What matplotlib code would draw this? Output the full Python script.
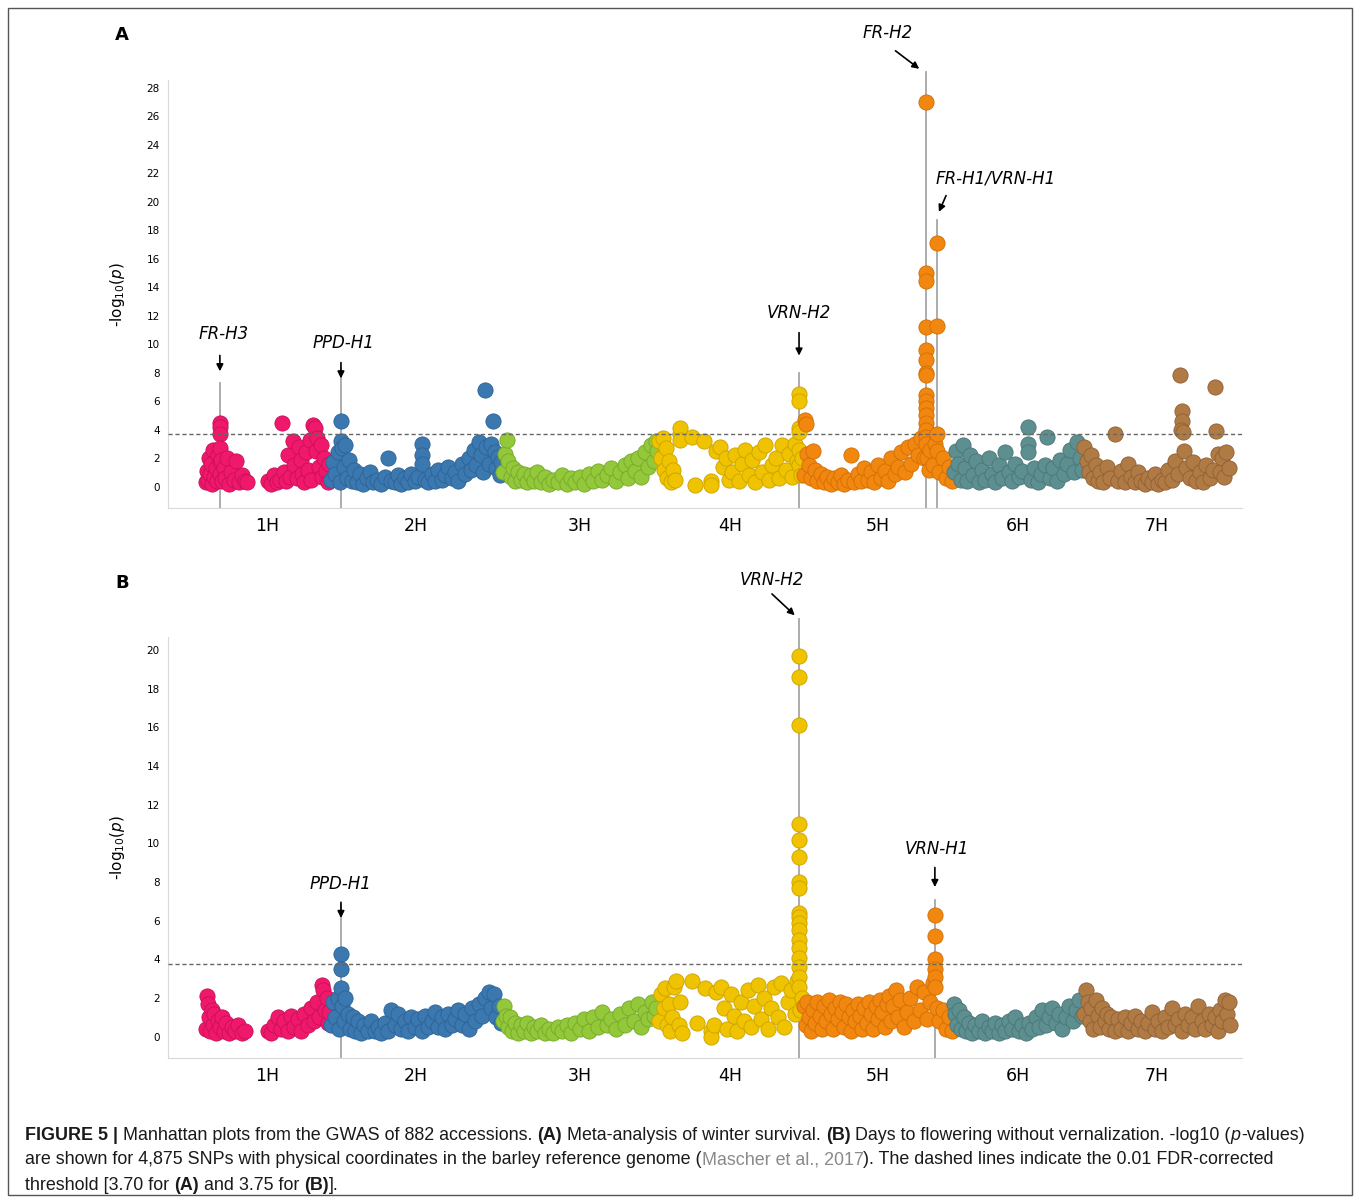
import matplotlib.pyplot as plt
import numpy as np

chroms = ['1H', '2H', '3H', '4H', '5H', '6H', '7H']
chrom_len = [558, 768, 699, 647, 670, 583, 657]  # Mb
colors = ['#f0186a', '#3b78b0', '#93c83a', '#f0c300', '#f2870f', '#5d8f90', '#b07a45']
edges = ['#c8105a', '#2d6294', '#74a82a', '#c9a200', '#d06e05', '#4a7576', '#8f5f33']

# (position Mb within chromosome, -log10 p)  panel A
A_1H = [(3,0.3),(8,1.1),(12,0.5),(18,2.0),(22,0.9),(28,1.6),(33,0.2),(38,2.6),(42,0.7),(48,1.3),
        (55,0.4),(60,2.2),(67,4.5),(67,4.2),(67,3.7),(67,2.7),(67,1.7),(67,0.9),(72,1.9),(78,0.4),
        (85,1.3),(92,0.6),(100,2.0),(108,0.2),(118,1.0),(128,0.5),(140,1.8),(152,0.3),(165,0.8),(180,0.4),(190,0.3),
        (280,0.4),(295,0.2),(310,0.8),(322,0.3),(335,0.5),(345,4.5),(352,1.0),(362,0.4),(372,2.2),(382,0.7),
        (392,3.2),(400,1.5),(410,0.6),(420,2.8),(428,1.9),(436,0.9),(444,0.3),(452,2.4),(460,1.2),(468,3.3),
        (476,0.5),(484,4.3),(490,4.1),(496,2.5),(502,3.4),(510,1.4),(518,2.9),(525,0.7),(532,2.0),(540,1.1),(548,0.3),(555,1.6)]
A_2H = [(5,0.5),(15,1.7),(25,0.9),(35,2.4),(45,0.3),(50,4.6),(50,3.2),(55,2.7),(62,1.4),(70,2.9),(78,0.6),
        (88,1.9),(98,0.4),(110,1.2),(122,0.3),(135,0.9),(150,0.2),(165,0.6),(180,1.0),(195,0.3),(212,0.5),
        (228,0.2),(245,0.7),(262,2.0),(275,0.4),(290,0.3),(305,0.8),(320,0.2),(335,0.6),(350,0.3),(365,0.9),
        (380,0.4),(395,0.7),(410,3.0),(410,2.2),(410,1.6),(425,0.5),(440,0.3),(455,0.9),(470,0.4),(485,1.2),
        (500,0.5),(515,0.8),(530,1.4),(545,0.6),(560,1.0),(575,0.4),(590,1.6),(605,0.9),(620,2.0),(632,1.2),
        (645,2.6),(655,1.5),(665,3.1),(675,2.2),(685,1.0),(695,6.8),(700,2.8),(710,1.6),(720,3.0),(730,4.6),
        (738,2.4),(745,1.3),(752,2.1),(760,0.8),(765,1.7)]
A_3H = [(5,1.0),(15,2.3),(22,3.3),(30,1.8),(40,0.7),(50,1.3),(60,0.4),(72,1.0),(85,0.5),(100,0.9),(115,0.3),
        (130,0.8),(145,0.4),(160,1.0),(178,0.3),(195,0.7),(212,0.2),(230,0.5),(250,0.3),(270,0.8),(290,0.2),
        (310,0.6),(330,0.3),(350,0.7),(370,0.2),(390,0.9),(410,0.4),(430,1.1),(450,0.5),(470,0.8),(490,1.3),
        (510,0.4),(530,1.0),(550,1.5),(565,0.6),(580,1.8),(595,1.1),(610,2.0),(625,0.7),(640,2.4),(655,1.4),
        (668,2.9),(680,1.8),(690,3.2),(696,2.5)]
A_4H = [(5,3.2),(12,2.0),(20,3.4),(28,1.2),(35,2.7),(42,0.6),(50,1.8),(58,0.3),(65,1.2),(75,0.5),
        (100,3.7),(100,4.1),(100,3.3),(150,3.5),(165,0.1),(205,3.2),(235,0.4),(235,0.1),(260,2.5),(275,2.8),
        (290,1.4),(305,2.0),(318,0.5),(330,1.0),(345,2.2),(360,0.4),(375,1.6),(390,2.6),(405,0.8),(420,1.9),
        (435,0.3),(450,2.4),(465,1.0),(480,2.9),(495,0.5),(510,1.5),(525,2.0),(540,0.6),(555,2.9),(570,1.2),
        (585,2.3),(600,0.7),(612,3.0),(622,1.8),(630,6.5),(630,6.0),(630,4.1),(630,3.8),(630,2.6),(630,1.5),
        (638,0.8),(645,2.0)]
A_5H = [(5,0.8),(10,4.7),(14,4.4),(20,2.3),(28,1.5),(35,0.6),(45,2.5),(55,1.2),(65,0.4),(80,0.9),(95,0.3),
        (110,0.7),(125,0.2),(140,0.6),(155,0.3),(170,0.8),(185,0.2),(200,0.5),(215,2.2),(230,0.3),(245,0.9),
        (260,0.4),(275,1.3),(290,0.5),(305,1.0),(320,0.3),(335,1.5),(350,0.6),(365,1.1),(380,0.4),(395,2.0),
        (410,0.9),(425,1.4),(440,2.4),(455,1.0),(470,2.8),(485,1.6),(500,3.0),(515,2.2),(530,3.4),(540,2.0),
        (550,27.0),(550,15.0),(550,14.4),(550,11.2),(550,9.6),(550,8.9),(550,8.0),(550,7.8),(550,6.4),
        (550,6.0),(550,5.5),(550,5.0),(550,4.5),(550,4.0),(550,3.5),(550,3.0),(555,2.0),(562,1.2),(570,2.6),
        (580,1.5),(590,3.0),(599,17.1),(599,11.3),(599,3.7),(599,2.5),(610,1.0),(625,2.0),(640,0.6),(655,1.4),(665,0.4)]
A_6H = [(5,1.0),(15,2.5),(25,1.6),(35,0.5),(45,2.9),(55,1.3),(65,0.4),(78,2.2),(90,0.8),(102,1.8),(115,0.3),
        (130,1.2),(145,0.5),(160,2.0),(175,0.9),(190,0.3),(205,1.5),(220,0.6),(235,2.4),(250,1.0),(265,0.4),
        (280,1.6),(295,0.7),(310,1.1),(335,4.2),(335,3.0),(335,2.4),(350,0.5),(365,1.3),(380,0.3),(395,0.9),
        (410,1.5),(420,3.5),(435,0.6),(450,1.3),(465,0.4),(480,1.9),(495,0.9),(510,1.6),(525,2.6),(540,1.0),
        (555,3.1),(568,2.0),(578,1.2)]
A_7H = [(5,2.8),(15,1.8),(25,1.0),(35,2.2),(45,0.6),(55,1.5),(65,0.4),(75,1.0),(90,0.3),(105,1.4),(120,0.6),
        (143,3.7),(155,0.4),(170,1.1),(185,0.3),(200,1.6),(215,0.7),(230,0.3),(245,1.0),(260,0.4),(275,0.2),
        (290,0.6),(305,0.3),(320,0.9),(335,0.2),(350,0.5),(365,0.3),(380,1.2),(395,0.5),(410,1.8),(425,0.9),
        (434,7.8),(440,5.3),(442,4.6),(438,4.0),(446,3.8),(450,2.5),(460,1.3),(475,0.6),(490,1.7),(505,0.4),
        (520,1.0),(535,0.3),(550,1.5),(565,0.6),(580,1.2),(590,7.0),(592,3.9),(600,2.3),(610,1.0),(620,2.0),
        (630,0.7),(640,2.4),(650,1.3)]

# panel B
B_1H = [(3,0.4),(8,2.1),(12,1.7),(18,1.0),(24,0.3),(30,1.4),(36,0.6),(42,1.2),(50,0.2),(58,0.8),(67,0.5),
        (75,1.0),(85,0.3),(95,0.7),(108,0.2),(120,0.5),(135,0.3),(150,0.6),(165,0.2),(180,0.3),
        (280,0.3),(295,0.2),(310,0.6),(325,1.0),(340,0.4),(355,0.8),(370,0.3),(385,1.1),(400,0.5),(415,0.9),
        (430,0.3),(445,1.2),(460,0.6),(475,1.5),(488,0.8),(500,1.8),(512,1.0),(522,2.7),(530,2.4),(538,1.4),
        (546,2.0),(552,0.7),(556,1.3)]
B_2H = [(5,0.6),(15,1.8),(25,1.0),(35,2.0),(42,0.4),(50,4.3),(50,3.5),(50,2.5),(55,1.6),(62,0.8),(70,2.0),
        (80,1.2),(90,0.4),(102,1.0),(115,0.3),(128,0.8),(140,0.2),(155,0.6),(170,0.3),(185,0.8),(200,0.3),
        (215,0.5),(230,0.2),(245,0.7),(260,0.3),(275,1.4),(290,0.6),(305,1.2),(320,0.4),(335,0.8),(350,0.3),
        (365,1.0),(380,0.5),(395,0.9),(410,0.3),(425,1.1),(440,0.5),(455,0.8),(470,1.3),(485,0.5),(500,1.0),
        (515,0.4),(530,1.2),(545,0.6),(560,0.9),(575,1.4),(590,0.6),(605,1.2),(620,0.4),(635,1.5),(650,0.8),
        (665,1.7),(680,1.1),(695,2.0),(710,2.3),(722,1.5),(735,2.2),(745,1.0),(755,1.6),(765,0.7)]
B_3H = [(5,0.8),(12,1.6),(20,1.1),(28,0.5),(38,1.0),(48,0.3),(60,0.7),(72,0.2),(85,0.6),(100,0.3),(115,0.7),
        (130,0.2),(145,0.5),(160,0.3),(178,0.6),(195,0.2),(212,0.4),(230,0.2),(250,0.5),(270,0.3),(290,0.6),
        (310,0.2),(330,0.7),(350,0.4),(370,0.9),(390,0.3),(410,1.0),(430,0.5),(450,1.3),(470,0.6),(490,0.9),
        (510,0.4),(530,1.2),(550,0.6),(570,1.5),(590,0.8),(610,1.7),(625,0.5),(640,1.3),(655,0.9),(670,1.8),
        (682,1.1),(692,1.5)]
B_4H = [(5,0.8),(15,2.2),(25,1.5),(32,2.5),(40,0.6),(48,1.7),(55,0.3),(62,1.0),(70,2.6),(82,2.9),(95,0.6),
        (100,1.8),(105,0.2),(150,2.9),(175,0.7),(210,2.5),(235,0.3),(235,0.0),(250,0.6),(260,2.3),(280,2.6),
        (295,1.5),(310,0.4),(325,2.2),(340,1.1),(355,0.3),(370,1.8),(385,0.8),(400,2.4),(415,0.5),(430,1.6),
        (445,2.7),(460,0.9),(475,2.0),(490,0.4),(505,1.5),(520,2.6),(535,1.0),(550,2.8),(565,0.5),(580,1.8),
        (595,2.4),(610,1.2),(620,2.9),(630,19.7),(630,18.6),(630,16.1),(630,11.0),(630,10.2),(630,9.3),
        (630,8.0),(630,7.7),(630,6.4),(630,6.2),(630,5.9),(630,5.5),(630,5.0),(630,4.6),(630,4.1),(630,3.6),
        (630,3.1),(630,2.6),(636,1.4),(642,2.0)]
B_5H = [(5,1.6),(12,0.6),(20,1.8),(28,1.0),(36,0.3),(45,1.4),(55,0.7),(65,1.8),(75,1.1),(85,0.4),(95,1.6),
        (105,0.8),(115,1.9),(125,1.2),(135,0.4),(145,1.5),(155,0.9),(165,1.8),(175,1.3),(185,0.5),(195,1.7),
        (205,1.0),(215,0.3),(225,1.4),(235,0.8),(245,1.7),(255,1.1),(265,0.4),(275,1.5),(285,0.7),(295,1.8),
        (305,1.2),(315,0.4),(325,1.6),(335,0.9),(345,1.9),(355,1.3),(365,0.5),(375,1.7),(385,2.1),(395,0.8),
        (405,1.6),(415,2.4),(425,1.0),(435,1.9),(450,0.5),(465,1.3),(480,2.0),(495,0.8),(510,2.6),(525,1.4),
        (540,2.3),(555,0.9),(570,1.8),(580,2.8),(590,6.3),(590,5.2),(590,4.0),(590,3.5),(590,3.1),(590,2.6),
        (598,1.5),(610,0.8),(625,1.4),(640,0.4),(655,1.0),(665,0.3)]
B_6H = [(5,1.7),(12,1.2),(20,0.6),(28,1.4),(38,0.4),(48,1.0),(60,0.3),(72,0.7),(85,0.2),(100,0.6),(115,0.3),
        (130,0.8),(145,0.2),(160,0.5),(175,0.3),(190,0.7),(205,0.2),(220,0.6),(235,0.3),(250,0.8),(265,0.4),
        (280,1.0),(295,0.3),(310,0.6),(325,0.2),(340,0.7),(355,0.4),(370,1.0),(385,0.5),(400,1.4),(415,0.6),
        (430,1.0),(445,1.5),(460,0.7),(475,1.2),(490,0.4),(505,1.0),(520,1.6),(535,0.8),(550,1.4),(565,1.9),(578,1.1)]
B_7H = [(5,1.2),(12,2.4),(20,1.8),(28,0.8),(36,1.5),(45,0.4),(55,1.9),(65,1.1),(75,0.5),(85,1.5),(95,0.8),
        (105,1.2),(115,0.4),(125,1.0),(140,0.3),(155,0.9),(170,0.4),(185,1.0),(200,0.3),(215,0.7),(230,1.1),
        (245,0.4),(260,0.8),(275,0.3),(290,0.7),(305,1.3),(320,0.4),(335,0.8),(350,0.3),(365,1.0),(380,0.5),
        (395,1.5),(410,0.6),(425,0.9),(440,0.3),(455,1.2),(470,0.6),(485,1.0),(500,0.4),(515,1.6),(530,0.8),
        (545,0.4),(560,1.2),(575,0.6),(590,1.0),(600,0.3),(612,1.4),(622,0.8),(632,1.9),(642,1.2),(650,1.8),(655,0.6)]

data_A = [A_1H, A_2H, A_3H, A_4H, A_5H, A_6H, A_7H]
data_B = [B_1H, B_2H, B_3H, B_4H, B_5H, B_6H, B_7H]
thr_A, thr_B = 3.70, 3.75

offsets = np.concatenate([[0], np.cumsum(chrom_len)[:-1]])
centers = offsets + np.array(chrom_len) / 2

fig = plt.figure(figsize=(13.6, 12.01), dpi=100)
axA = fig.add_axes([0.1235, 0.577, 0.79, 0.356])
axB = fig.add_axes([0.1235, 0.119, 0.79, 0.351])


def manhattan(ax, data, thr, ylim, ticks):
    for i, pts in enumerate(data):
        p = np.array(pts)
        ax.scatter(offsets[i] + p[:, 0], p[:, 1], s=120, c=colors[i], edgecolors=edges[i],
                   linewidths=0.6, zorder=3)
    ax.axhline(thr, color='#666666', ls=(0, (3, 2)), lw=1, zorder=4)
    ax.set_xlim(-165, 4636)
    ax.set_ylim(*ylim)
    ax.set_yticks(ticks)
    ax.tick_params(axis='y', labelsize=7.5, length=0, pad=6)
    ax.set_xticks([])
    for s in ['top', 'right']:
        ax.spines[s].set_visible(False)
    for s in ['left', 'bottom']:
        ax.spines[s].set_color('#d9d9d9')
    ax.set_ylabel('-log$_{10}$($p$)', fontsize=11, labelpad=14)
    for c, lab in zip(centers, chroms):
        ax.text(c, -0.022, lab, transform=ax.get_xaxis_transform(), ha='center', va='top', fontsize=12.5)


manhattan(axA, data_A, thr_A, (-1.5, 28.5), np.arange(0, 29, 2))
manhattan(axB, data_B, thr_B, (-1.1, 20.7), np.arange(0, 21, 2))


def gene(ax, name, ci, mb, top, arrow_from, arrow_to, label_xy):
    x = offsets[ci] + mb
    ax.plot([x, x], [ax.get_ylim()[0], top], color='#a6a6a6', lw=1.3, zorder=2, clip_on=False)
    ax.annotate('', xy=(offsets[ci] + arrow_to[0], arrow_to[1]),
                xytext=(offsets[ci] + arrow_from[0], arrow_from[1]),
                arrowprops=dict(arrowstyle='-|>', color='black', lw=1.2, mutation_scale=10),
                annotation_clip=False)
    ax.text(offsets[ci] + label_xy[0], label_xy[1], name, style='italic', fontsize=12,
            ha='center', va='center', clip_on=False)


gene(axA, 'FR-H3', 0, 67, 7.3, (67, 9.4), (67, 7.9), (85, 10.7))
gene(axA, 'PPD-H1', 1, 50, 8.3, (50, 8.9), (50, 7.4), (60, 10.1))
gene(axA, 'VRN-H2', 3, 630, 8.0, (630, 11.0), (630, 9.0), (630, 12.2))
gene(axA, 'FR-H2', 4, 550, 29.1, (404, 30.7), (530, 29.2), (377, 31.8))
gene(axA, 'FR-H1/VRN-H1', 4, 599, 18.7, (645, 20.6), (603, 19.1), (860, 21.6))

gene(axB, 'PPD-H1', 1, 50, 6.8, (50, 7.1), (50, 6.0), (50, 7.9))
gene(axB, 'VRN-H2', 3, 630, 21.6, (500, 23.0), (620, 21.7), (510, 23.6))
gene(axB, 'VRN-H1', 4, 590, 7.1, (590, 8.9), (590, 7.6), (600, 9.7))

fig.text(122 / 1360, 1 - 35 / 1201, 'A', fontsize=13, weight='bold', ha='center', va='center')
fig.text(122 / 1360, 1 - 583 / 1201, 'B', fontsize=13, weight='bold', ha='center', va='center')

# outer frame
fig.add_artist(plt.Rectangle((8 / 1360, 6 / 1201), 1344 / 1360, 1187 / 1201, transform=fig.transFigure,
                             fill=False, ec='#555555', lw=1))

# caption
caption = [
    [('FIGURE 5 | ', 'bold', '#1a1a1a'), ('Manhattan plots from the GWAS of 882 accessions. ', 'normal', '#1a1a1a'),
     ('(A)', 'bold', '#1a1a1a'), (' Meta-analysis of winter survival. ', 'normal', '#1a1a1a'),
     ('(B)', 'bold', '#1a1a1a'), (' Days to flowering without vernalization. -log10 (', 'normal', '#1a1a1a'),
     ('p', 'italic', '#1a1a1a'), ('-values)', 'normal', '#1a1a1a')],
    [('are shown for 4,875 SNPs with physical coordinates in the barley reference genome (', 'normal', '#1a1a1a'),
     ('Mascher et al., 2017', 'normal', '#8a8a8a'),
     ('). The dashed lines indicate the 0.01 FDR-corrected', 'normal', '#1a1a1a')],
    [('threshold [3.70 for ', 'normal', '#1a1a1a'), ('(A)', 'bold', '#1a1a1a'), (' and 3.75 for ', 'normal', '#1a1a1a'),
     ('(B)', 'bold', '#1a1a1a'), ('].', 'normal', '#1a1a1a')],
]
fig.canvas.draw()
r = fig.canvas.get_renderer()
for li, line in enumerate(caption):
    x = 25
    y = 1 - (1135 + li * 25) / 1201
    for txt, w, col in line:
        kw = dict(fontsize=12.9, color=col, va='center', ha='left', family='Liberation Sans')
        if w == 'italic':
            kw['style'] = 'italic'
        else:
            kw['weight'] = w
        t = fig.text(x / 1360, y, txt, **kw)
        x += t.get_window_extent(r).width

fig.savefig('out.png', dpi=100)
